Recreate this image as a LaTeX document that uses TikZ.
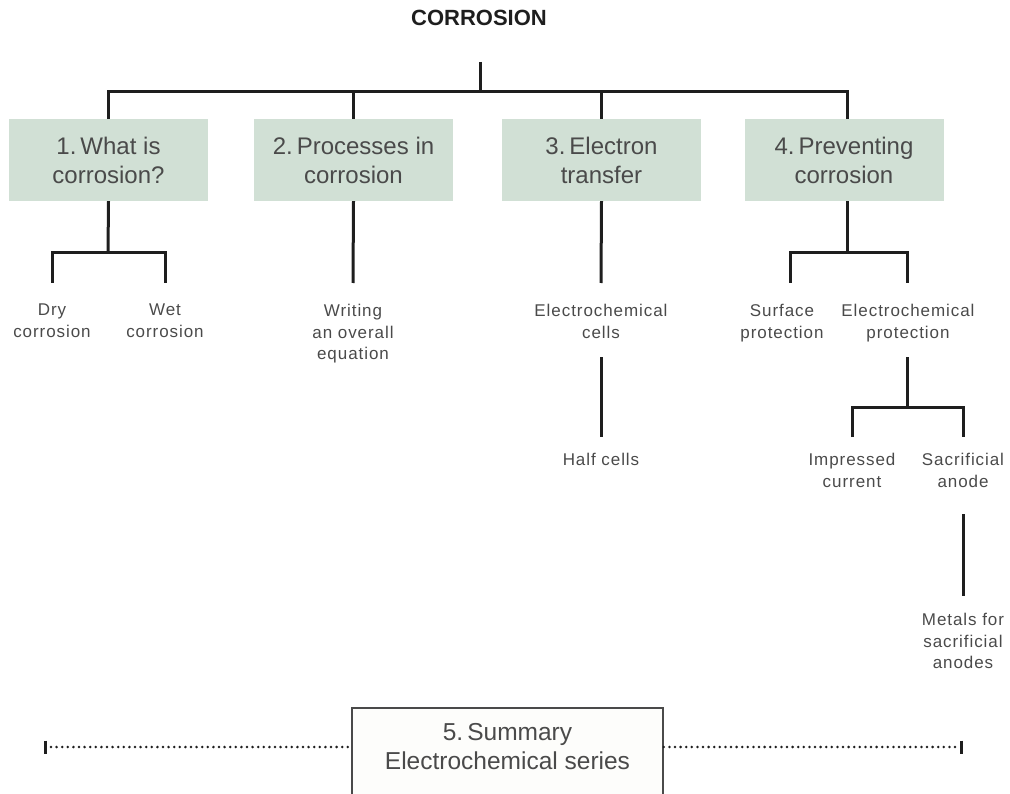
\documentclass[tikz,border=0pt]{standalone}
\usepackage{fontspec}
\setmainfont{Liberation Sans}
\newfontfamily\labfont[LetterSpace=5.5]{Liberation Sans}
\definecolor{boxfill}{HTML}{D1E0D5}
\definecolor{txt}{HTML}{4A4A4A}
\definecolor{ln}{HTML}{1E1E1E}
\definecolor{sumline}{HTML}{4A4A4A}
\definecolor{sumfill}{HTML}{FDFDFB}
\begin{document}
\begin{tikzpicture}[x=1pt,y=-1pt,
  conn/.style={draw=ln, line width=3pt},
  topic/.style={fill=boxfill, minimum width=199pt, minimum height=82pt, inner sep=0pt,
    align=center, text=txt, font=\fontsize{24}{29}\selectfont},
  sumtextstyle/.style={inner sep=0pt, align=center, text=txt, font=\fontsize{24.5}{29}\selectfont},
  leaf/.style={align=center, inner sep=0pt, anchor=north, text=txt,
    font=\labfont\fontsize{17}{21.5}\selectfont},
  dotline/.style={draw=ln, line width=2.8pt, line cap=round, dash pattern=on 0pt off 5.6pt},
  tickline/.style={draw=ln, line width=3pt}]
\useasboundingbox (0,0) rectangle (1010,794);

% title and top bus
\node[inner sep=0pt, text=ln, font=\bfseries\fontsize{22}{26}\selectfont] (title) at (479,18) {CORROSION};
\coordinate (root) at (480,62);
\coordinate (bus) at (480,92);

% topic boxes
\node[topic] (box1) at (108.5,160) {1.\,What is\\corrosion?};
\node[topic] (box2) at (353.5,160) {2.\,Processes in\\corrosion};
\node[topic] (box3) at (601.5,160) {3.\,Electron\\transfer};
\node[topic] (box4) at (844,160) {4.\,Preventing\\corrosion};

\draw[conn] (root) -- (bus);
\draw[conn] (box1.north) |- (bus) -| ([xshift=3pt]box4.north);
\draw[conn] (box2.north) -- (box2.north |- bus);
\draw[conn] (box3.north) -- (box3.north |- bus);

% leaves
\node[leaf] (dry) at (52,304) {Dry\\corrosion};
\node[leaf] (wet) at (165,304) {Wet\\corrosion};
\node[leaf] (writing) at (353,304) {Writing\\an overall\\equation};
\node[leaf] (ecells) at (601,304) {Electrochemical\\cells};
\node[leaf] (half) at (601,453) {Half cells};
\node[leaf] (surface) at (782,304) {Surface\\protection};
\node[leaf] (eprot) at (908,304) {Electrochemical\\protection};
\node[leaf] (impressed) at (852,453) {Impressed\\current};
\node[leaf] (sacrificial) at (963,453) {Sacrificial\\anode};
\node[leaf] (metals) at (963,613) {Metals for\\sacrificial\\anodes};

% branch 1
\coordinate (j1) at (108,253);
\draw[conn] (box1.south) -- (j1);
\draw[conn] ([yshift=21pt]dry.north) |- (j1) -| ([yshift=21pt]wet.north);

% branch 2
\draw[conn] (box2.south) -- ([yshift=21pt]writing.north);

% branch 3
\draw[conn] (box3.south) -- ([yshift=21pt]ecells.north);
\draw[conn] ([yshift=-19pt]ecells.south) -- ([yshift=16pt]half.north);

% branch 4
\coordinate (j4) at (847,253);
\draw[conn] ([xshift=3pt]box4.south) -- (j4);
\draw[conn] ([xshift=8pt,yshift=21pt]surface.north) |- (j4) -| ([xshift=-1pt,yshift=21pt]eprot.north);
\coordinate (j5) at (907,408);
\draw[conn] ([xshift=-1pt,yshift=-15.5pt]eprot.south) -- (j5);
\draw[conn] ([yshift=16pt]impressed.north) |- (j5) -| ([yshift=16pt]sacrificial.north);
\draw[conn] ([yshift=-27pt]sacrificial.south) -- ([yshift=17pt]metals.north);

% summary
\node[draw=sumline, line width=1.5pt, fill=sumfill, minimum width=311pt, minimum height=94pt,
  inner sep=0pt, anchor=north] (summary) at (507.5,707) {};
\node[sumtextstyle] (sumtext) at (507.5,747) {5.\,Summary\\Electrochemical series};

\coordinate (dl) at (45,747);
\coordinate (dr) at (961,747);
\draw[dotline] ([xshift=6pt]dl) -- (dl -| summary.west);
\draw[dotline] ([xshift=-6pt]dr) -- (dr -| summary.east);
\draw[tickline] ([yshift=6.5pt]dl) -- ([yshift=-6.5pt]dl);
\draw[tickline] ([yshift=6.5pt]dr) -- ([yshift=-6.5pt]dr);
\end{tikzpicture}
\end{document}
